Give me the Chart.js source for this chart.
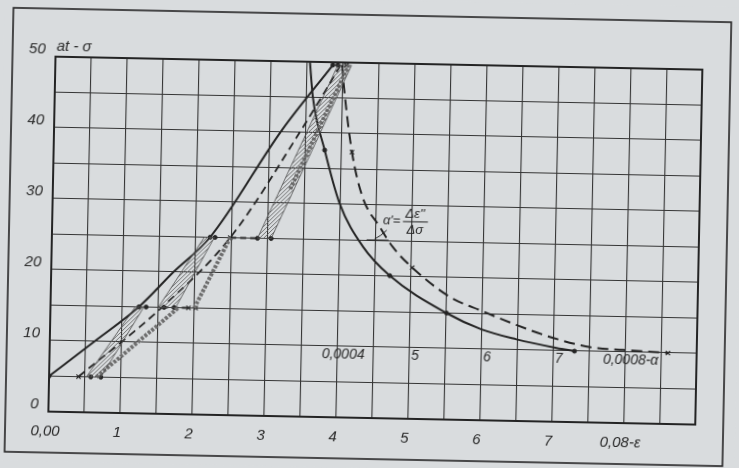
<!DOCTYPE html>
<html>
<head>
<meta charset="utf-8">
<title>σ-ε diagram</title>
<script src="https://cdn.jsdelivr.net/npm/chart.js@4.4.1/dist/chart.umd.min.js"></script>
<style>
  html, body { margin: 0; padding: 0; background: #d9dcde; overflow: hidden; }
  /* the scanned sheet sits slightly tilted */
  #sheet { position: absolute; left: 0; top: 0; width: 739px; height: 468px;
           transform: rotate(1.15deg); transform-origin: 50% 50%; }
</style>
</head>
<body>
<div id="sheet"><canvas id="chart" width="739" height="468"></canvas></div>
<script>
// x axis: strain ε in units of 0.01 (and α in units of 0.0001), y axis: stress σ in at
const xTicks = [0, 1, 2, 3, 4, 5, 6, 7, 8];
const xTickLabels = ['0,00', '1', '2', '3', '4', '5', '6', '7', '0,08-ε'];
const yTicks = [0, 10, 20, 30, 40, 50];
const yTickLabels = ['0', '10', '20', '30', '40', '50'];
const alphaTicks = [4, 5, 6, 7, 8];
const alphaTickLabels = ['0,0004', '5', '6', '7', '0,0008-α'];

// loading curve, solid
const loadSolidEps = [0, 0.62, 1.23, 1.7, 2.2, 3.17, 3.86];
const loadSolidSig = [5, 10, 15, 20, 25, 40.3, 49.6];

// loading curve, dashed
const loadDashEps = [0.41, 1.55, 2.48, 3.44, 3.97];
const loadDashSig = [5, 15, 25, 40.4, 49.6];

// hatched bands (closed outlines)
const band1Eps = [0.52, 1.18, 1.3, 0.72, 0.52];
const band1Sig = [5, 15, 15, 5, 5];
const band2Eps = [1.5, 2.12, 2.26, 1.74, 1.5];
const band2Sig = [15, 25, 25, 15, 15];
const band3Eps = [2.86, 3.93, 4.12, 3.05, 2.86];
const band3Sig = [25, 49.6, 49.6, 25, 25];

// strips drawn with small squares
const strip1Eps = [0.66, 1.78];
const strip1Sig = [5, 15];
const strip2Eps = [2.0, 2.48];
const strip2Sig = [15, 25];
const strip3Eps = [3.3, 4.08];
const strip3Sig = [32, 49.6];

// holding steps at constant stress
const step15Eps = [1.55, 1.95];
const step15Sig = [15, 15];
const step25Eps = [2.48, 2.86];
const step25Sig = [25, 25];

// α' against σ, solid and dashed
const alphaSolidEps = [3.54, 3.59, 3.77, 3.99, 4.33, 4.71, 5.51, 6.0, 6.49, 7.05, 7.3];
const alphaSolidSig = [50, 45.1, 37.6, 30.2, 24.1, 20.1, 15.0, 12.8, 11.5, 10.4, 10.0];
const alphaDashEps = [3.99, 4.02, 4.15, 4.31, 4.56, 4.74, 5.02, 5.55, 6.0, 6.49, 7.0, 7.52, 7.98, 8.6];
const alphaDashSig = [49.6, 46.6, 37.4, 31.1, 26.9, 24.2, 21.3, 17.3, 15.4, 13.5, 11.8, 10.6, 10.3, 10.0];

// measured points
const dotEps = [0, 1.23, 1.33, 0.58, 0.72, 1.58, 1.72, 2.2, 2.27, 2.86, 3.05, 3.86, 3.93, 3.77, 4.71, 5.51, 7.3];
const dotSig = [5, 15, 15, 5, 5, 15, 15, 25, 25, 25, 25, 49.6, 49.6, 37.6, 20.1, 15, 10];
const crossEps = [0.41, 1.92, 2.02, 2.48, 4.05, 4.15, 5.02, 8.6];
const crossSig = [5, 15, 15, 25, 49.6, 37.4, 21.3, 10];

// where the α label row and the α' note sit
const alphaLabelSig = 8.8;
const noteEps = 4.6;
const noteSig = 27.9;

const PAPER = '#d9dcde';
const INK = '#242424';
const FONT = '"Liberation Sans", Arial, sans-serif';

const pts = (xs, ys) => xs.map((x, i) => ({ x: x, y: ys[i] }));

// diagonal hatching used inside the bands
function makeHatch() {
  const c = document.createElement('canvas');
  c.width = 4;
  c.height = 4;
  const g = c.getContext('2d');
  g.strokeStyle = '#5a5a5a';
  g.lineWidth = 0.8;
  g.beginPath();
  g.moveTo(0, 4); g.lineTo(4, 0);
  g.moveTo(-1, 1); g.lineTo(1, -1);
  g.moveTo(3, 5); g.lineTo(5, 3);
  g.stroke();
  return g.createPattern(c, 'repeat');
}
const hatch = makeHatch();

function bandSet(xs, ys) {
  return {
    data: pts(xs, ys), showLine: true, fill: 'shape', backgroundColor: hatch,
    borderColor: '#4d4d4d', borderWidth: 0.8, pointRadius: 0, tension: 0
  };
}

// hollow little boxes: a light dashed band with the paper colour punched in
function stripSets(xs, ys) {
  return [
    { data: pts(xs, ys), showLine: true, borderColor: '#6e6e6e', borderWidth: 4,
      borderDash: [3, 1.5], pointRadius: 0 },
    { data: pts(xs, ys), showLine: true, borderColor: PAPER, borderWidth: 2,
      borderDash: [1.6, 2.9], borderDashOffset: -0.7, pointRadius: 0 }
  ];
}

function lineSet(xs, ys, dash, width) {
  return {
    data: pts(xs, ys), showLine: true, borderColor: INK, borderWidth: width || 2,
    borderDash: dash || [], pointRadius: 0, cubicInterpolationMode: 'monotone'
  };
}

// frame, extra labels and the α' note
const sheetDecor = {
  id: 'sheetDecor',
  beforeDraw(chart) {
    const ctx = chart.ctx;
    ctx.save();
    ctx.fillStyle = PAPER;
    ctx.fillRect(0, 0, chart.width, chart.height);
    ctx.restore();
  },
  afterDraw(chart) {
    const { ctx, chartArea: a, scales: { x, y } } = chart;
    ctx.save();
    ctx.strokeStyle = INK;
    ctx.lineWidth = 2;
    ctx.strokeRect(a.left, a.top, a.right - a.left, a.bottom - a.top);
    ctx.lineWidth = 1.6;
    ctx.strokeRect(9, 15, 718, 444);

    ctx.fillStyle = '#2a2a2a';
    ctx.textBaseline = 'middle';
    ctx.font = 'italic 15px ' + FONT;
    ctx.textAlign = 'left';
    ctx.fillText('at - σ', a.left + 1, a.top - 10);

    ctx.font = 'italic 14px ' + FONT;
    ctx.textAlign = 'center';
    const ly = y.getPixelForValue(alphaLabelSig);
    alphaTicks.forEach((v, i) => {
      ctx.fillText(alphaTickLabels[i], x.getPixelForValue(v) + 6, ly);
    });

    const fx = x.getPixelForValue(noteEps);
    const fy = y.getPixelForValue(noteSig);
    ctx.textAlign = 'left';
    ctx.font = 'italic 13px ' + FONT;
    ctx.fillText("α'=", fx, fy);
    ctx.textAlign = 'center';
    ctx.fillText("Δε''", fx + 32, fy - 7);
    ctx.fillText('Δσ', fx + 32, fy + 9);
    ctx.lineWidth = 1;
    ctx.beginPath();
    ctx.moveTo(fx + 20, fy + 1);
    ctx.lineTo(fx + 45, fy + 1);
    // angle mark
    ctx.moveTo(fx - 16, fy + 20);
    ctx.lineTo(fx + 6, fy + 20);
    ctx.moveTo(fx - 8, fy + 19);
    ctx.quadraticCurveTo(fx - 2, fy + 16, fx + 4, fy + 10);
    ctx.stroke();
    ctx.restore();
  }
};

const datasets = [
  bandSet(band1Eps, band1Sig),
  bandSet(band2Eps, band2Sig),
  bandSet(band3Eps, band3Sig),
  ...stripSets(strip1Eps, strip1Sig),
  ...stripSets(strip2Eps, strip2Sig),
  ...stripSets(strip3Eps, strip3Sig),
  lineSet(step15Eps, step15Sig, [6, 4], 1.8),
  lineSet(step25Eps, step25Sig, [6, 4], 1.8),
  lineSet(loadSolidEps, loadSolidSig, [], 2),
  lineSet(loadDashEps, loadDashSig, [8, 5], 1.8),
  lineSet(alphaSolidEps, alphaSolidSig, [], 2),
  lineSet(alphaDashEps, alphaDashSig, [11, 6], 2),
  { data: pts(dotEps, dotSig), pointStyle: 'circle', pointRadius: 2,
    backgroundColor: INK, borderColor: INK },
  { data: pts(crossEps, crossSig), pointStyle: 'crossRot', pointRadius: 3,
    borderColor: INK, borderWidth: 1.2 }
];

new Chart(document.getElementById('chart'), {
  type: 'scatter',
  data: { datasets: datasets },
  plugins: [sheetDecor],
  options: {
    responsive: false,
    animation: false,
    devicePixelRatio: 1,
    layout: { padding: { top: 63, right: 40, bottom: 0, left: 0 } },
    plugins: { legend: { display: false }, tooltip: { enabled: false } },
    scales: {
      x: {
        type: 'linear', min: 0, max: 9,
        afterFit: (s) => { s.height = 50; },
        border: { display: false },
        grid: { color: '#353535', lineWidth: 1.1, drawTicks: false },
        ticks: {
          stepSize: 0.5, autoSkip: false, maxRotation: 0, padding: 11, labelOffset: -3,
          color: '#2a2a2a', font: { family: FONT, size: 15, style: 'italic' },
          callback: (v) => {
            const i = xTicks.indexOf(v);
            return i >= 0 ? xTickLabels[i] : '';
          }
        }
      },
      y: {
        type: 'linear', min: 0, max: 50,
        afterFit: (s) => { s.width = 52; },
        border: { display: false },
        grid: { color: '#353535', lineWidth: 1.1, drawTicks: false },
        ticks: {
          stepSize: 5, autoSkip: false, padding: 10, labelOffset: -7,
          color: '#2a2a2a', font: { family: FONT, size: 15, style: 'italic' },
          callback: (v) => {
            const i = yTicks.indexOf(v);
            return i >= 0 ? yTickLabels[i] : '';
          }
        }
      }
    }
  }
});
</script>
</body>
</html>
